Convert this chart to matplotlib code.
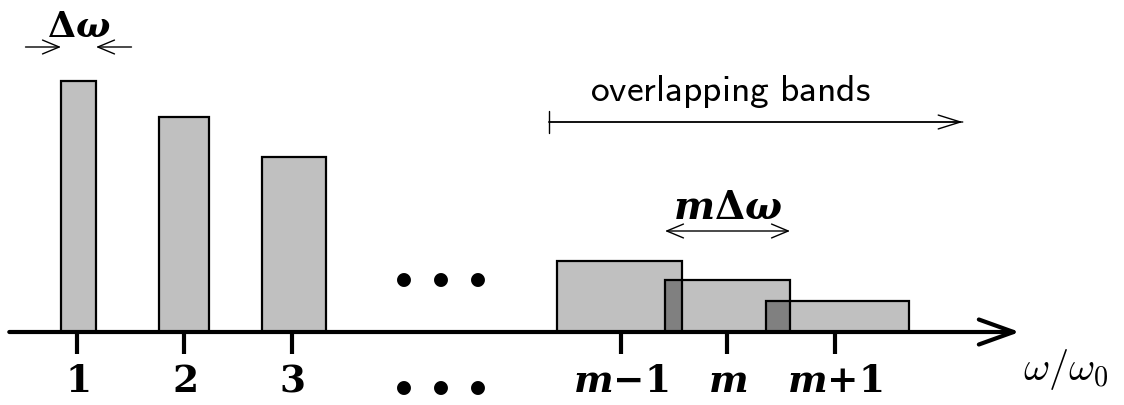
import matplotlib
matplotlib.use("Agg")
import matplotlib.pyplot as plt

plt.rcParams['mathtext.fontset'] = 'cm'

# ---- data (schematic units: x in omega/omega0 positions, y in band height) ----
tick_pos = [1.0, 1.995, 3.0, 6.06, 7.05, 8.05]
tick_labels = [r'$\mathbf{1}$', r'$\mathbf{2}$', r'$\mathbf{3}$',
               r'$\boldsymbol{m}\mathbf{-1}$', r'$\boldsymbol{m}$', r'$\boldsymbol{m}\mathbf{+1}$']

# isolated harmonics (left edge, width, height)
iso_left = [0.851, 1.763, 2.721]
iso_width = [0.326, 0.465, 0.595]
iso_height = [2.51, 2.15, 1.75]

# overlapping bands m-1, m, m+1
band_left = [5.465, 6.47, 7.409]
band_width = [1.163, 1.163, 1.33]
band_height = [0.71, 0.52, 0.31]

LIGHT = '#c0c0c0'
DARK = '#808080'

fig = plt.figure(figsize=(11.24, 4.06), dpi=100)
ax = fig.add_axes([0, 0, 1, 1])
ax.set_xlim(0.2837, 10.74)
ax.set_ylim(-0.73, 3.33)
ax.axis('off')

# isolated bars
ax.bar(iso_left, iso_height, width=iso_width, align='edge', color=LIGHT,
       edgecolor='black', linewidth=1.6, zorder=2)

# bands: fill, overlap, outline
ax.bar(band_left, band_height, width=band_width, align='edge', color=LIGHT,
       edgecolor='none', zorder=1)
ov_left, ov_w, ov_h = [], [], []
for i in range(len(band_left) - 1):
    r_prev = band_left[i] + band_width[i]
    l_next = band_left[i + 1]
    ov_left.append(l_next)
    ov_w.append(r_prev - l_next)
    ov_h.append(min(band_height[i], band_height[i + 1]))
ax.bar(ov_left, ov_h, width=ov_w, align='edge', color=DARK, edgecolor='none', zorder=2)
ax.bar(band_left, band_height, width=band_width, align='edge', fill=False,
       edgecolor='black', linewidth=1.6, zorder=3)

# horizontal axis with arrow
ax.annotate('', xy=(9.77, 0), xytext=(0.37, 0),
            arrowprops=dict(arrowstyle='->,head_length=1.25,head_width=0.45',
                            lw=3, color='black', mutation_scale=20,
                            shrinkA=0, shrinkB=0), zorder=4)
ax.vlines(tick_pos, -0.22, 0, color='black', lw=3, zorder=4)
for xp, lab in zip(tick_pos, tick_labels):
    ax.text(xp, -0.49, lab, ha='center', va='center', fontsize=27,
            math_fontfamily='dejavuserif')
ax.text(9.80, -0.37, r'$\omega/\omega_0$', ha='left', va='center', fontsize=29,
        math_fontfamily='cm')

# dots
dots_c = 4.377
dot_step = 0.343
for k in (-1, 0, 1):
    for yy in (0.56, -0.52):
        ax.text(dots_c + k * dot_step, yy, r'$\bullet$', ha='center', va='center',
                fontsize=26, math_fontfamily='cm')

# Delta omega annotation
c1 = iso_left[0] + iso_width[0] / 2
ax.text(c1, 3.06, r'$\boldsymbol{\Delta\omega}$', ha='center', va='center', fontsize=26,
        math_fontfamily='dejavuserif')
ap = dict(arrowstyle='->,head_length=0.6,head_width=0.25', lw=1, color='black',
          mutation_scale=20, shrinkA=0, shrinkB=0)
ax.annotate('', xy=(iso_left[0], 2.85), xytext=(iso_left[0] - 0.33, 2.85), arrowprops=ap)
ax.annotate('', xy=(iso_left[0] + iso_width[0], 2.85),
            xytext=(iso_left[0] + iso_width[0] + 0.33, 2.85), arrowprops=ap)

# m Delta omega annotation
ml = band_left[1]
mr = band_left[1] + band_width[1]
ax.text((ml + mr) / 2, 1.25, r'$\boldsymbol{m\Delta\omega}$', ha='center', va='center',
        fontsize=28, math_fontfamily='dejavuserif')
ax.annotate('', xy=(ml, 1.01), xytext=(mr, 1.01),
            arrowprops=dict(arrowstyle='<->,head_length=0.6,head_width=0.25', lw=1,
                            color='black', mutation_scale=20, shrinkA=0, shrinkB=0))

# overlapping bands annotation
ax.text(7.08, 2.41, r'$\mathsf{overlapping\ bands}$', ha='center', va='center', fontsize=27,
        math_fontfamily='cm')
ax.annotate('', xy=(9.24, 2.1), xytext=(5.39, 2.1),
            arrowprops=dict(arrowstyle='|-|,widthA=0.4,widthB=0', lw=1, color='black',
                            mutation_scale=20, shrinkA=0, shrinkB=0))
ax.annotate('', xy=(9.24, 2.1), xytext=(5.39, 2.1),
            arrowprops=dict(arrowstyle='->,head_length=0.8,head_width=0.25', lw=1,
                            color='black', mutation_scale=20, shrinkA=0, shrinkB=0))

fig.savefig('out.png', dpi=100)
